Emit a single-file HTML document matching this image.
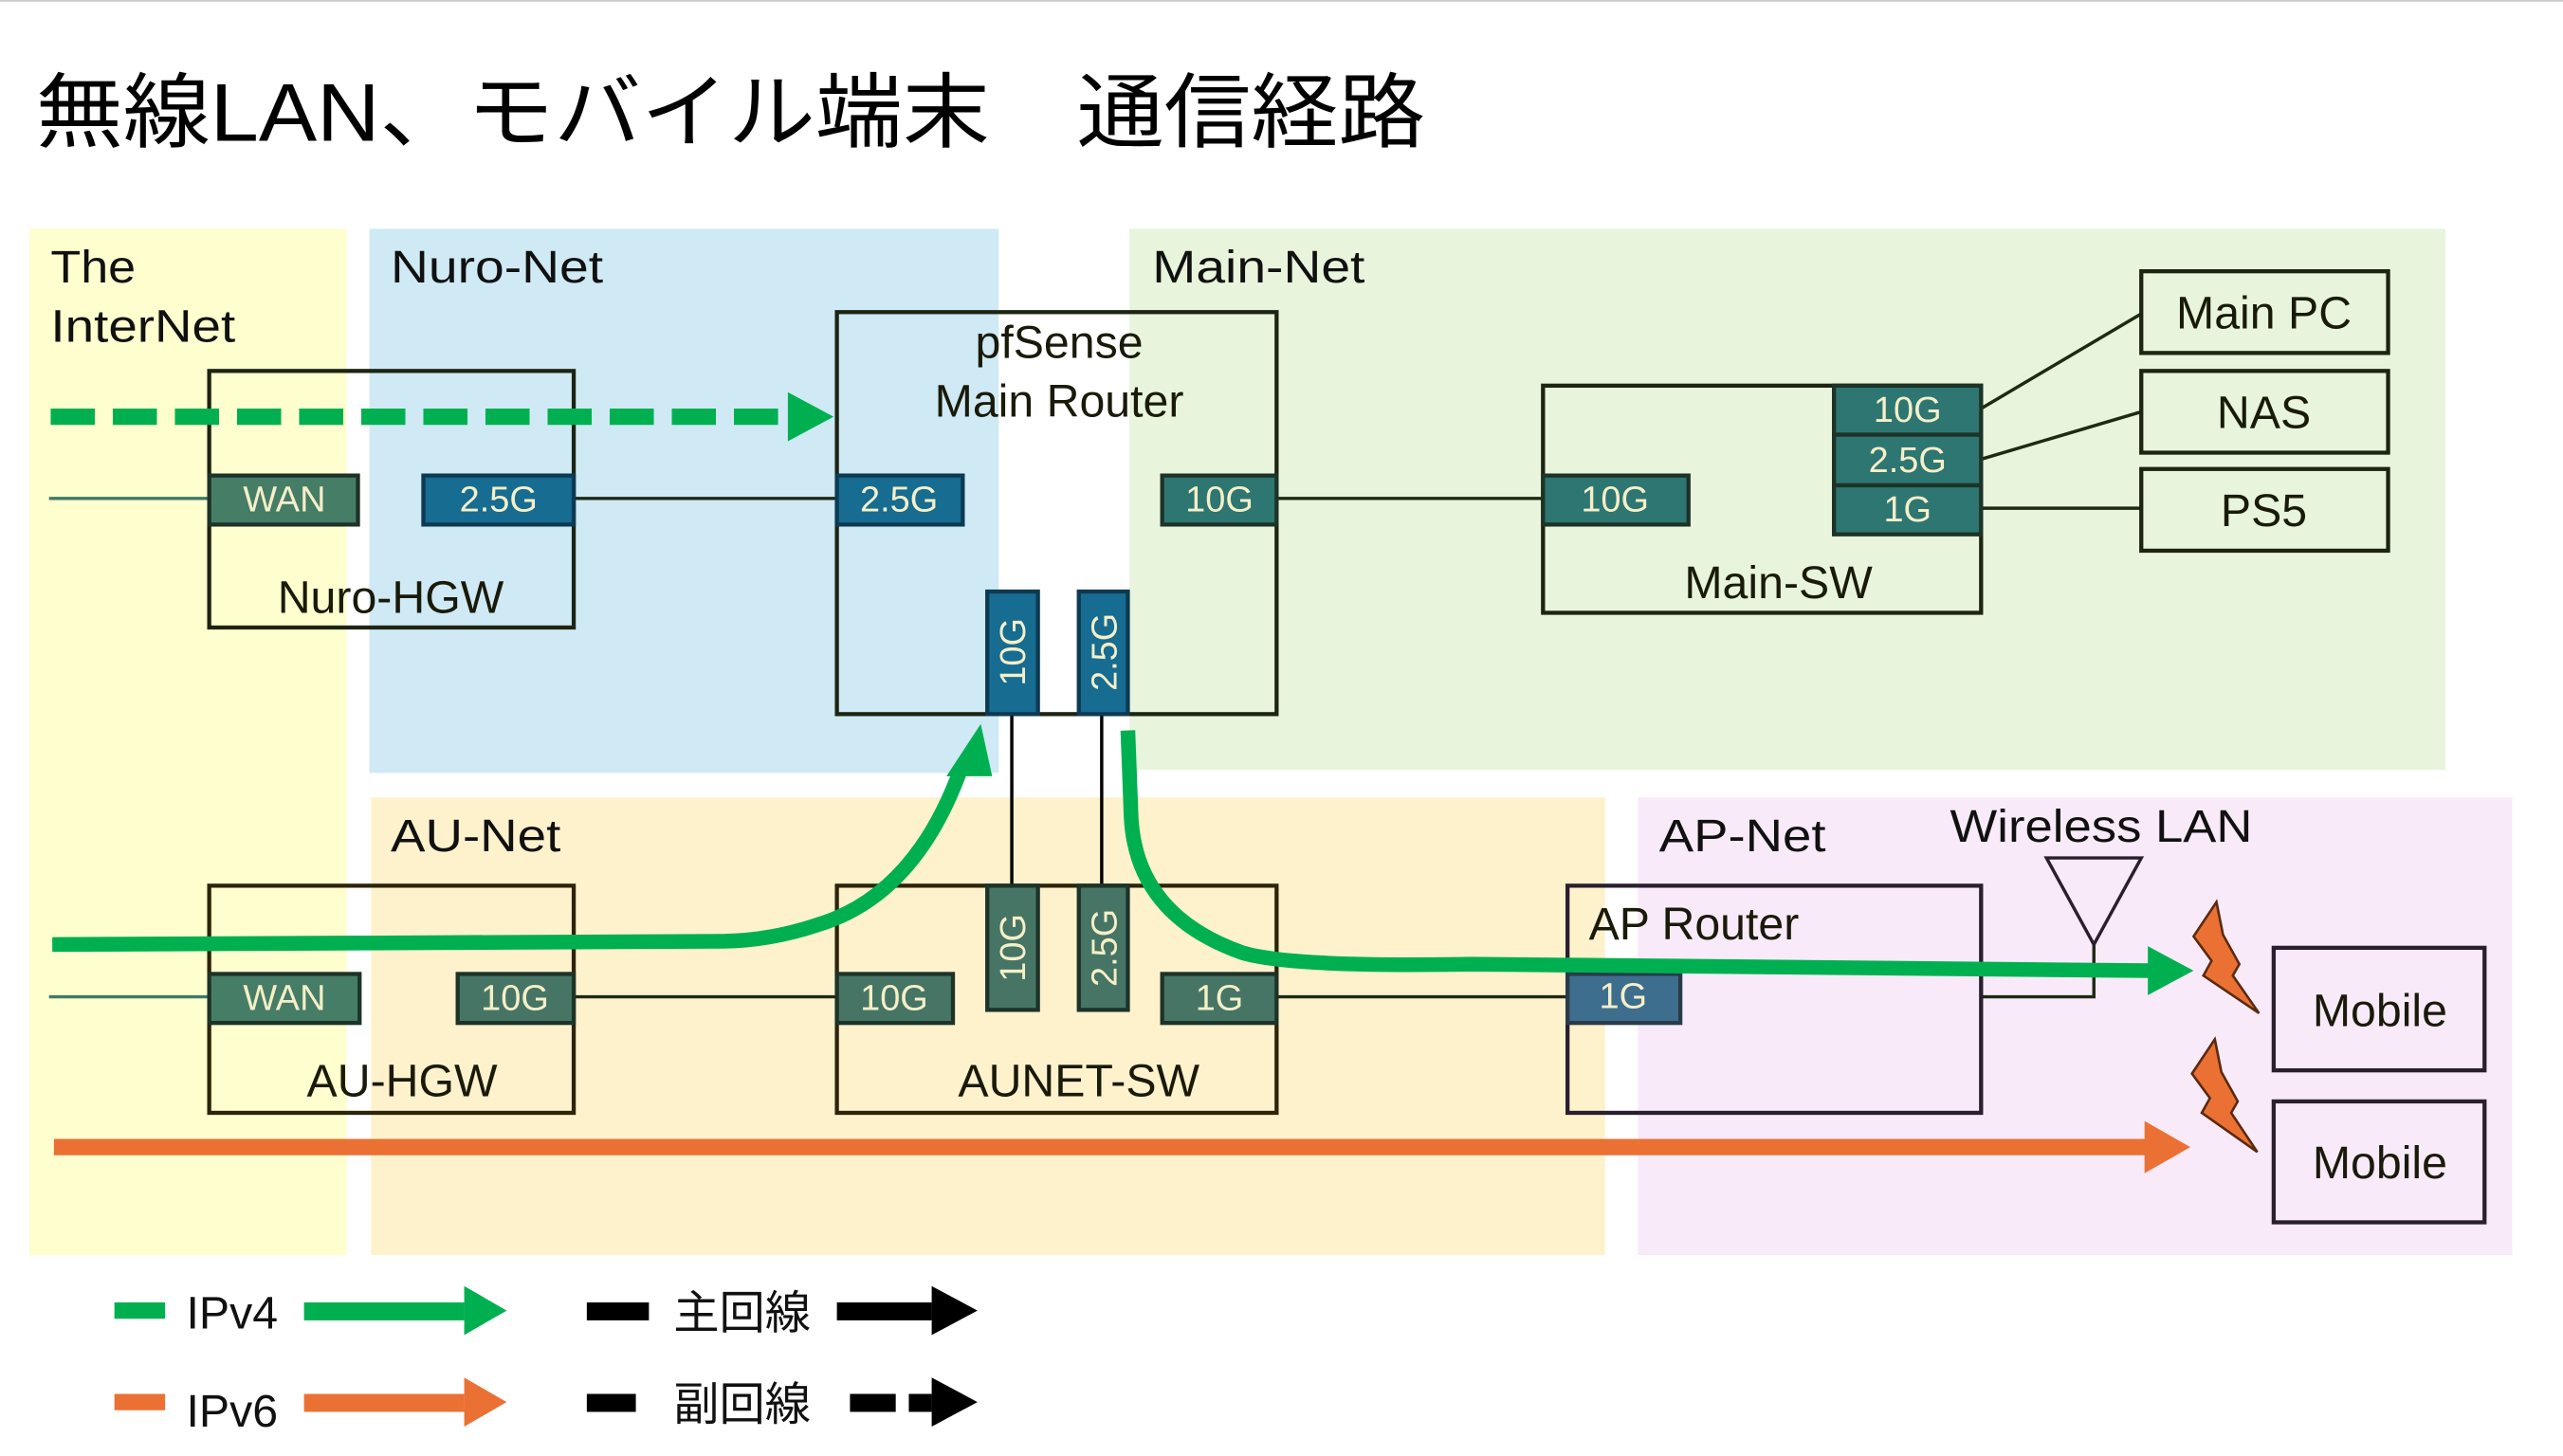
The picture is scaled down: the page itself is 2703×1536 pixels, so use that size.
<!DOCTYPE html>
<html><head><meta charset="utf-8">
<style>
html,body{margin:0;padding:0;background:#fff;}
svg{display:block;}
text{font-family:"Liberation Sans","Noto Sans CJK JP",sans-serif;}
</style></head>
<body>
<svg width="2703" height="1536" viewBox="0 0 1568 891" preserveAspectRatio="none" xmlns="http://www.w3.org/2000/svg">
<rect x="0" y="0" width="1568" height="891" fill="#fff"/>
<line x1="0" y1="0.5" x2="1568" y2="0.5" stroke="#ccc" stroke-width="1"/>
<text x="22" y="86" font-size="50" textLength="850" lengthAdjust="spacingAndGlyphs" fill="#000">無線LAN、モバイル端末　通信経路</text>

<rect x="18" y="140" width="194" height="628" fill="#fefece"/>
<rect x="226" y="140" width="385" height="333" fill="#cfeaf5"/>
<rect x="691" y="140" width="805" height="331" fill="#e8f5dc"/>
<rect x="227" y="488" width="755" height="280" fill="#fef2cd"/>
<rect x="1002" y="488" width="535" height="280" fill="#f8eaf9"/>

<g font-size="28" fill="#111">
<text x="31" y="173" textLength="52" lengthAdjust="spacingAndGlyphs">The</text>
<text x="31" y="209" textLength="113" lengthAdjust="spacingAndGlyphs">InterNet</text>
<text x="239" y="173" textLength="130" lengthAdjust="spacingAndGlyphs">Nuro-Net</text>
<text x="705" y="173" textLength="130" lengthAdjust="spacingAndGlyphs">Main-Net</text>
<text x="239" y="521" textLength="104" lengthAdjust="spacingAndGlyphs">AU-Net</text>
<text x="1015" y="521" textLength="102" lengthAdjust="spacingAndGlyphs">AP-Net</text>
<text x="1193" y="515" textLength="185" lengthAdjust="spacingAndGlyphs">Wireless LAN</text>
</g>

<g stroke="#1d2a14" stroke-width="2" fill="none">
<line x1="30" y1="305" x2="128" y2="305" stroke="#3f7a66"/>
<line x1="351" y1="305" x2="512" y2="305"/>
<line x1="781" y1="305" x2="944" y2="305"/>
<line x1="1212" y1="250" x2="1310" y2="192"/>
<line x1="1212" y1="281" x2="1310" y2="252"/>
<line x1="1212" y1="311" x2="1310" y2="311"/>
<line x1="30" y1="610" x2="128" y2="610" stroke="#3f7a66"/>
<line x1="351" y1="610" x2="512" y2="610"/>
<line x1="781" y1="610" x2="959" y2="610"/>
<line x1="619" y1="437" x2="619" y2="542" stroke="#000"/>
<line x1="674" y1="437" x2="674" y2="542" stroke="#000"/>
<polyline points="1212,610 1281,610 1281,578"/>
<polygon points="1252,525 1310,525 1281,578" stroke="#2a1f2e"/>
</g>

<g fill="none" stroke="#1d2412" stroke-width="2.5">
<rect x="128" y="227" width="223" height="157"/>
<rect x="512" y="191" width="269" height="246"/>
<rect x="944" y="236" width="268" height="139"/>
<rect x="1310" y="166" width="151" height="50"/>
<rect x="1310" y="227" width="151" height="50"/>
<rect x="1310" y="287" width="151" height="50"/>
<rect x="128" y="542" width="223" height="139" stroke="#2e240a"/>
<rect x="512" y="542" width="269" height="139" stroke="#2e240a"/>
<rect x="959" y="542" width="253" height="139" stroke="#2a1f2e"/>
<rect x="1391" y="580" width="129" height="75" stroke="#2a1f2e"/>
<rect x="1391" y="674" width="129" height="74" stroke="#2a1f2e"/>
</g>

<g stroke="#1d3328" stroke-width="2.5">
<rect x="128" y="291" width="91" height="30" fill="#467d66"/>
<rect x="259" y="291" width="92" height="30" fill="#176c91" stroke="#0d3a52"/>
<rect x="512" y="291" width="77" height="30" fill="#176c91" stroke="#0d3a52"/>
<rect x="711" y="291" width="70" height="30" fill="#2e7672"/>
<rect x="604" y="362" width="31" height="75" fill="#176c91" stroke="#0d3a52"/>
<rect x="660" y="362" width="30" height="75" fill="#176c91" stroke="#0d3a52"/>
<rect x="944" y="291" width="89" height="30" fill="#2e7672"/>
<rect x="1122" y="236" width="90" height="30" fill="#2e7672"/>
<rect x="1122" y="266" width="90" height="31" fill="#2e7672"/>
<rect x="1122" y="297" width="90" height="30" fill="#2e7672"/>
<rect x="128" y="596" width="92" height="30" fill="#467d66"/>
<rect x="280" y="596" width="71" height="30" fill="#467565"/>
<rect x="512" y="596" width="71" height="30" fill="#467565"/>
<rect x="604" y="542" width="31" height="76" fill="#467565"/>
<rect x="660" y="542" width="30" height="76" fill="#467565"/>
<rect x="711" y="596" width="70" height="30" fill="#467565"/>
<rect x="959" y="596" width="69" height="30" fill="#3e6e8e" stroke="#2a3a4a"/>
</g>
<g font-size="22" fill="#f5efc8" text-anchor="middle">
<text x="174" y="313">WAN</text>
<text x="305" y="313">2.5G</text>
<text x="550" y="313">2.5G</text>
<text x="746" y="313">10G</text>
<text x="988" y="313">10G</text>
<text x="1167" y="258">10G</text>
<text x="1167" y="289">2.5G</text>
<text x="1167" y="319">1G</text>
<text x="174" y="618">WAN</text>
<text x="315" y="618">10G</text>
<text x="547" y="618">10G</text>
<text x="746" y="618">1G</text>
<text x="993" y="617">1G</text>
<text transform="translate(627,399) rotate(-90)">10G</text>
<text transform="translate(683,399) rotate(-90)">2.5G</text>
<text transform="translate(627,580) rotate(-90)">10G</text>
<text transform="translate(683,580) rotate(-90)">2.5G</text>
</g>

<g font-size="28" fill="#1a1a0a" text-anchor="middle">
<text x="648" y="219">pfSense</text>
<text x="648" y="255">Main Router</text>
<text x="239" y="375">Nuro-HGW</text>
<text x="1088" y="366">Main-SW</text>
<text x="1385" y="201">Main PC</text>
<text x="1385" y="262">NAS</text>
<text x="1385" y="322">PS5</text>
<text x="246" y="671">AU-HGW</text>
<text x="660" y="671">AUNET-SW</text>
<text x="1456" y="628">Mobile</text>
<text x="1456" y="721">Mobile</text>
<text x="972" y="575" text-anchor="start">AP Router</text>
</g>

<line x1="31" y1="255" x2="485" y2="255" stroke="#00b050" stroke-width="10" stroke-dasharray="27,11"/>
<polygon points="482,240 510,255 482,270" fill="#00b050"/>

<path d="M32,578 L440,576 Q470,576 500,566 Q560,548 588,470" fill="none" stroke="#00b050" stroke-width="9"/>
<polygon points="579,475 607,475 600,443" fill="#00b050"/>
<path d="M690,447 L692,500 Q695,560 760,583 Q790,592 900,590 L1316,594" fill="none" stroke="#00b050" stroke-width="9"/>
<polygon points="1314,579 1342,594 1314,609" fill="#00b050"/>

<line x1="33" y1="702" x2="1314" y2="702" stroke="#ea7133" stroke-width="10"/>
<polygon points="1312,686 1340,702 1312,718" fill="#ea7133"/>

<g fill="#ea7133" stroke="#5a2a10" stroke-width="1.5">
<polygon points="1356,552 1342,573 1353,588 1348,597 1382,620 1366,597 1370,590 1360,572"/>
<polygon points="1355,636 1341,657 1352,672 1347,681 1381,705 1365,681 1369,674 1359,656"/>
</g>

<rect x="70" y="797" width="31" height="10" fill="#00b050"/>
<text x="114" y="813" font-size="28" fill="#111">IPv4</text>
<rect x="186" y="797" width="98" height="11" fill="#00b050"/>
<polygon points="284,787 310,802 284,817" fill="#00b050"/>
<rect x="70" y="853" width="31" height="10" fill="#ea7133"/>
<text x="114" y="873" font-size="28" fill="#111">IPv6</text>
<rect x="186" y="853" width="98" height="11" fill="#ea7133"/>
<polygon points="284,843 310,858 284,873" fill="#ea7133"/>
<rect x="359" y="797" width="38" height="11" fill="#000"/>
<text x="412" y="813" font-size="28" fill="#111">主回線</text>
<rect x="512" y="797" width="58" height="11" fill="#000"/>
<polygon points="570,787 598,802 570,817" fill="#000"/>
<rect x="359" y="853" width="30" height="11" fill="#000"/>
<text x="412" y="869" font-size="28" fill="#111">副回線</text>
<rect x="520" y="853" width="28" height="11" fill="#000"/>
<rect x="556" y="853" width="14" height="11" fill="#000"/>
<polygon points="570,843 598,858 570,873" fill="#000"/>
</svg>
</body></html>
